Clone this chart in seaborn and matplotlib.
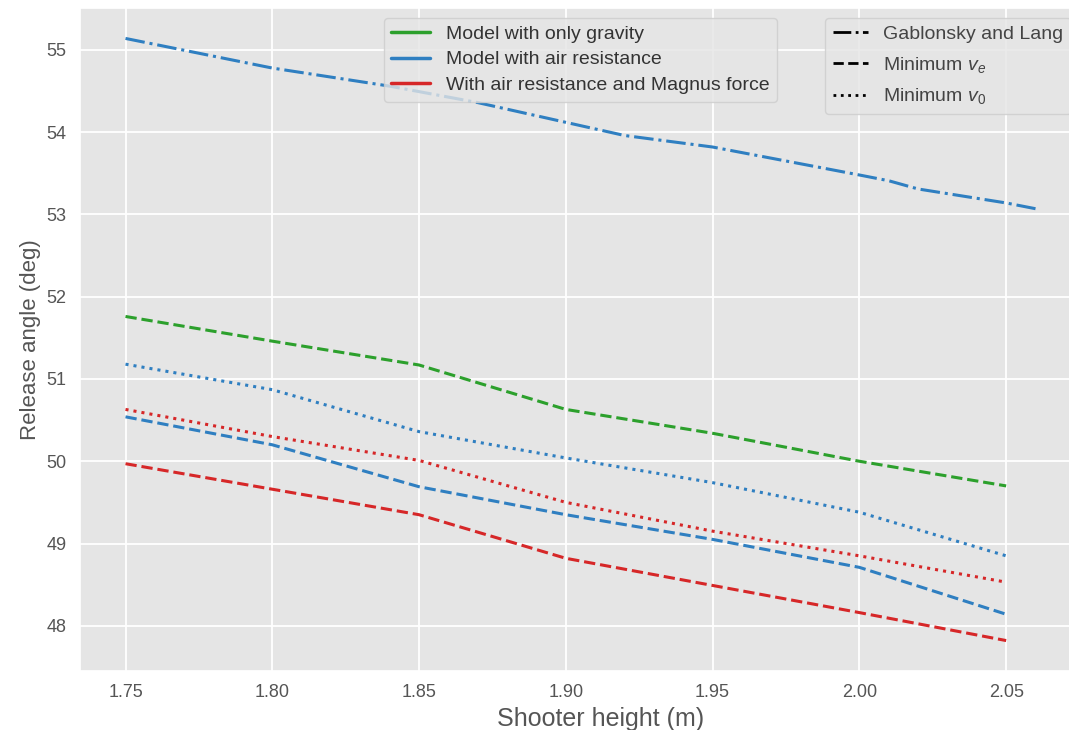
import pandas as pd
import seaborn as sns
import matplotlib.pyplot as plt
from matplotlib.lines import Line2D

# shooter heights (m)
heights = [1.75, 1.80, 1.85, 1.90, 1.95, 2.00, 2.05]
heights_gl = [1.75, 1.80, 1.84, 1.87, 1.90, 1.92, 1.95, 2.00, 2.01, 2.02, 2.05, 2.06]

# release angles (deg)
gravity_ve = [51.76, 51.46, 51.17, 50.63, 50.34, 50.00, 49.70]
air_gl = [55.14, 54.78, 54.56, 54.36, 54.12, 53.96, 53.82, 53.48, 53.41, 53.31, 53.14, 53.07]
air_ve = [50.54, 50.20, 49.69, 49.35, 49.05, 48.71, 48.14]
air_v0 = [51.18, 50.87, 50.36, 50.04, 49.74, 49.38, 48.85]
magnus_ve = [49.97, 49.66, 49.35, 48.82, 48.49, 48.16, 47.82]
magnus_v0 = [50.63, 50.30, 50.01, 49.50, 49.15, 48.85, 48.53]

models = ["Model with only gravity", "Model with air resistance",
          "With air resistance and Magnus force"]
methods = ["Gablonsky and Lang", "Minimum $v_e$", "Minimum $v_0$"]

colors = {models[0]: "#2ca02c", models[1]: "#2f7fc1", models[2]: "#d62728"}
dashes = {methods[0]: (6.4, 1.6, 1, 1.6), methods[1]: (3.7, 1.6), methods[2]: (1, 1.65)}
styles = {methods[0]: "-.", methods[1]: "--", methods[2]: ":"}


def series(x, y, model, method):
    return pd.DataFrame({"height": x, "angle": y, "model": model, "method": method})


df = pd.concat([
    series(heights, gravity_ve, models[0], methods[1]),
    series(heights_gl, air_gl, models[1], methods[0]),
    series(heights, air_ve, models[1], methods[1]),
    series(heights, air_v0, models[1], methods[2]),
    series(heights, magnus_ve, models[2], methods[1]),
    series(heights, magnus_v0, models[2], methods[2]),
], ignore_index=True)

sns.set_theme(style="darkgrid", rc={
    "axes.facecolor": "#e5e5e5",
    "grid.color": "white",
    "grid.linewidth": 1.3,
    "xtick.color": "#555555",
    "ytick.color": "#555555",
    "axes.labelcolor": "#555555",
})
plt.rcParams['font.family'] = ['Liberation Sans', 'DejaVu Sans']
plt.rcParams['mathtext.fontset'] = 'custom'
plt.rcParams['mathtext.it'] = 'Liberation Sans:italic'
plt.rcParams['mathtext.rm'] = 'Liberation Sans'

fig = plt.figure(figsize=(10.69, 7.30), dpi=100)
# axes runs slightly past the right edge, like the cropped original
ax = fig.add_axes([80 / 1069, 1 - 671 / 730, 1001 / 1069, 663 / 730])

sns.lineplot(data=df, x="height", y="angle", hue="model", style="method",
             palette=colors, dashes=dashes, linewidth=2.2, legend=False,
             estimator=None, sort=True, ax=ax)

ax.set_xlim(1.7345, 2.0755)
ax.set_ylim(47.45, 55.51)
ax.set_xticks(heights)
ax.set_xticklabels([f"{h:.2f}" for h in heights])
ax.tick_params(labelsize=13)
ax.set_xlabel("Shooter height (m)", fontsize=18)
ax.xaxis.label.set_x(0.52)
ax.set_ylabel("Release angle (deg)", fontsize=16)

color_handles = [Line2D([], [], color=colors[m], lw=2.5) for m in models]
leg1 = ax.legend(color_handles, models, loc="upper center", fontsize=14,
                 labelspacing=0.4, facecolor="#e5e5e5", edgecolor="#cccccc",
                 framealpha=0.8, labelcolor="#333333")
ax.add_artist(leg1)

style_handles = [Line2D([], [], color="black", lw=2, linestyle=styles[m]) for m in methods]
ax.legend(style_handles, methods, loc="upper right", fontsize=14,
          labelspacing=0.6, handlelength=1.8, facecolor="#e5e5e5",
          edgecolor="#cccccc", framealpha=0.8, labelcolor="#444444")

fig.savefig("out.png", dpi=100)
